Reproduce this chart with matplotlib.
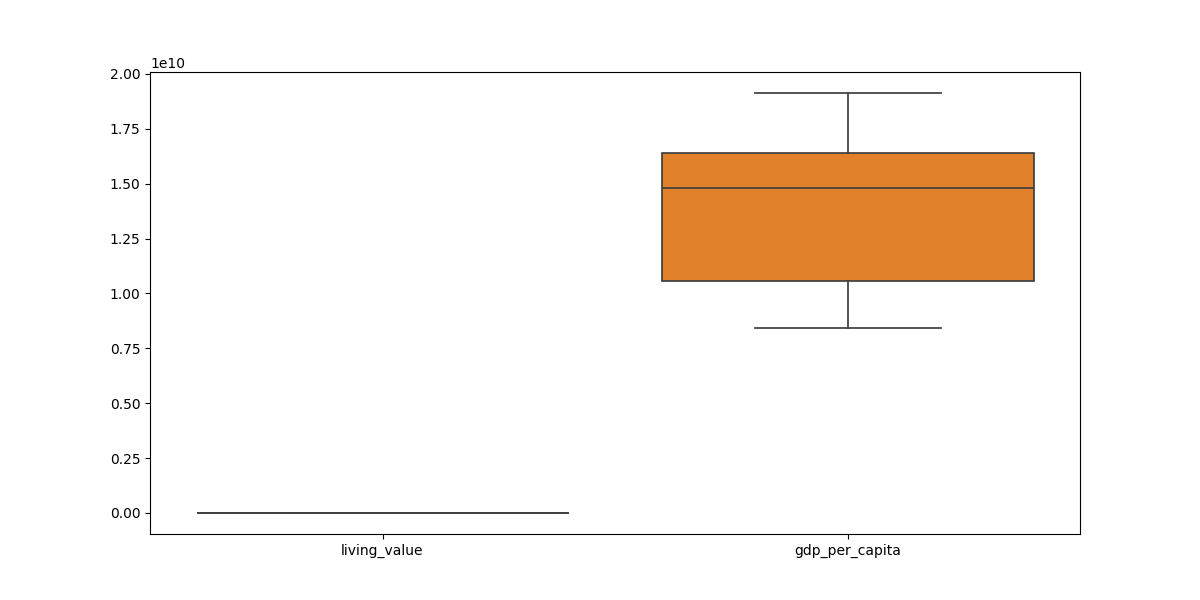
import matplotlib
matplotlib.use("Agg")
import matplotlib.pyplot as plt

# Kategorie i statystyki pudełek
categories = ['living_value', 'gdp_per_capita']
whisker_low = [0.0, 0.843e10]
q1 = [0.0, 1.057e10]
medians = [0.0, 1.481e10]
q3 = [0.0, 1.640e10]
whisker_high = [0.0, 1.913e10]

box_colors = ['#3274a1', '#e1812c']
LINE_COLOR = '#3f3f3f'

stats = []
for i, name in enumerate(categories):
    stats.append({
        'label': name,
        'whislo': whisker_low[i],
        'q1': q1[i],
        'med': medians[i],
        'q3': q3[i],
        'whishi': whisker_high[i],
        'fliers': [],
    })

fig, ax = plt.subplots(figsize=(12, 6), dpi=100)

line_kw = dict(color=LINE_COLOR, linewidth=1.25)
bp = ax.bxp(stats, positions=range(len(categories)), widths=0.8,
            patch_artist=True, showfliers=False,
            boxprops=dict(edgecolor=LINE_COLOR, linewidth=1.25),
            medianprops=line_kw, whiskerprops=line_kw, capprops=line_kw,
            capwidths=0.4)

for patch, c in zip(bp['boxes'], box_colors):
    patch.set_facecolor(c)

ax.set_xlim(-0.5, len(categories) - 0.5)
ax.set_xticks(range(len(categories)))
ax.set_xticklabels(categories)

plt.savefig('out.png')
plt.close()
